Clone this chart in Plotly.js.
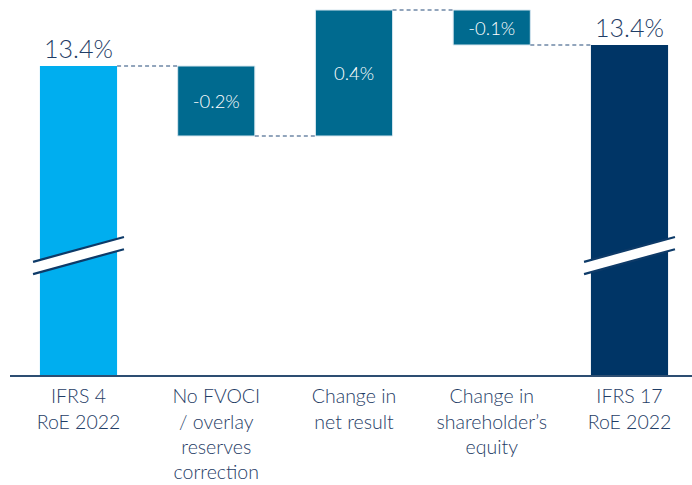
<!DOCTYPE html>
<html>
<head>
<meta charset="utf-8">
<script src="https://cdn.plot.ly/plotly-3.0.1.min.js"></script>
<style>html,body{margin:0;padding:0;background:#fff;}#chart{width:692px;height:485px;}</style>
</head>
<body>
<div id="chart"></div>
<script>
// ---- data ----
var categories = ["IFRS 4<br>RoE 2022", "No FVOCI<br>/ overlay<br>reserves<br>correction", "Change in<br>net result", "Change in<br>shareholder’s<br>equity", "IFRS 17<br>RoE 2022"];
var startValue = 13.38;           // IFRS 4 RoE 2022 (%)
var changes = [-0.20, 0.36, -0.10]; // step changes (%)
var kinds = ["total", "delta", "delta", "delta", "total"];
var barColors = ["#00AEEF", "#006A8F", "#006A8F", "#006A8F", "#003566"];
var breakLevel = [12.821, 12.856]; // axis-break band (lower/upper centre), in %

// ---- derived ----
var endValue = changes.reduce(function(a, b){ return a + b; }, startValue);
var levels = [startValue];
changes.forEach(function(c){ levels.push(levels[levels.length-1] + c); });
var xs = categories.map(function(_, i){ return i; });
var ys = [startValue].concat(changes).concat([endValue]);
var bases = [0];
for (var i = 0; i < changes.length; i++) bases.push(levels[i]);
bases.push(0);
function fmt(v){ return (v < 0 ? "-" : "") + Math.abs(v).toFixed(1) + "%"; }
var texts = ys.map(fmt);
var textpos = kinds.map(function(k){ return k === "total" ? "outside" : "inside"; });
var lineW = kinds.map(function(k){ return k === "total" ? 0 : 1; });

var W = 0.56;
var FONT = "Lato, sans-serif";
var traces = [];
traces.push({
  type: "bar", x: xs, y: ys, base: bases, width: W,
  marker: {color: barColors, line: {color: "#d6e6ef", width: lineW}},
  text: texts, textposition: textpos, insidetextanchor: "middle",
  textangle: 0, constraintext: "none", cliponaxis: false,
  insidetextfont: {family: FONT, size: 18.5, color: "#ffffff", weight: 300},
  outsidetextfont: {family: FONT, size: 25, color: "#1f3d66", weight: 300},
  hoverinfo: "skip", showlegend: false
});
// connectors
for (var j = 0; j < levels.length; j++) {
  traces.push({
    type: "scatter", mode: "lines",
    x: [xs[j] + W/2, xs[j+1] - W/2], y: [levels[j], levels[j]],
    line: {color: "#6f88a6", width: 1.5, dash: "4px,3px"},
    hoverinfo: "skip", showlegend: false, cliponaxis: false
  });
}

// axis-break marks on the two total bars
var shapes = [];
var half = 0.33, slope = 0.071;
kinds.forEach(function(k, i){
  if (k !== "total") return;
  var yLo = breakLevel[0], yHi = breakLevel[1];
  var x0 = xs[i] - half, x1 = xs[i] + half;
  shapes.push({type: "path", xref: "x", yref: "y", layer: "above",
    path: "M" + x0 + "," + (yLo - slope/2) + " L" + x1 + "," + (yLo + slope/2) +
          " L" + x1 + "," + (yHi + slope/2) + " L" + x0 + "," + (yHi - slope/2) + " Z",
    fillcolor: "#ffffff", line: {width: 0}});
  [yLo, yHi].forEach(function(yy){
    shapes.push({type: "line", xref: "x", yref: "y", layer: "above",
      x0: x0, x1: x1, y0: yy - slope/2, y1: yy + slope/2,
      line: {color: "#0d3a68", width: 2.2}});
  });
});

var layout = {
  width: 692, height: 485,
  margin: {l: 10, r: 0, t: 5, b: 110},
  paper_bgcolor: "#ffffff", plot_bgcolor: "#ffffff",
  showlegend: false, hovermode: false,
  xaxis: {
    range: [-0.4973, 4.4537], tickmode: "array", tickvals: xs, ticktext: categories,
    showgrid: false, zeroline: false, showline: true, linecolor: "#2d4e72", linewidth: 2,
    ticks: "", ticklabelstandoff: 3,
    tickfont: {family: FONT, size: 19.5, color: "#1f3d66", weight: 300}
  },
  yaxis: {
    range: [12.4971, 13.5543], visible: false, showgrid: false, zeroline: false
  },
  shapes: shapes
};
Plotly.newPlot("chart", traces, layout, {displayModeBar: false, staticPlot: true});
</script>
</body>
</html>
